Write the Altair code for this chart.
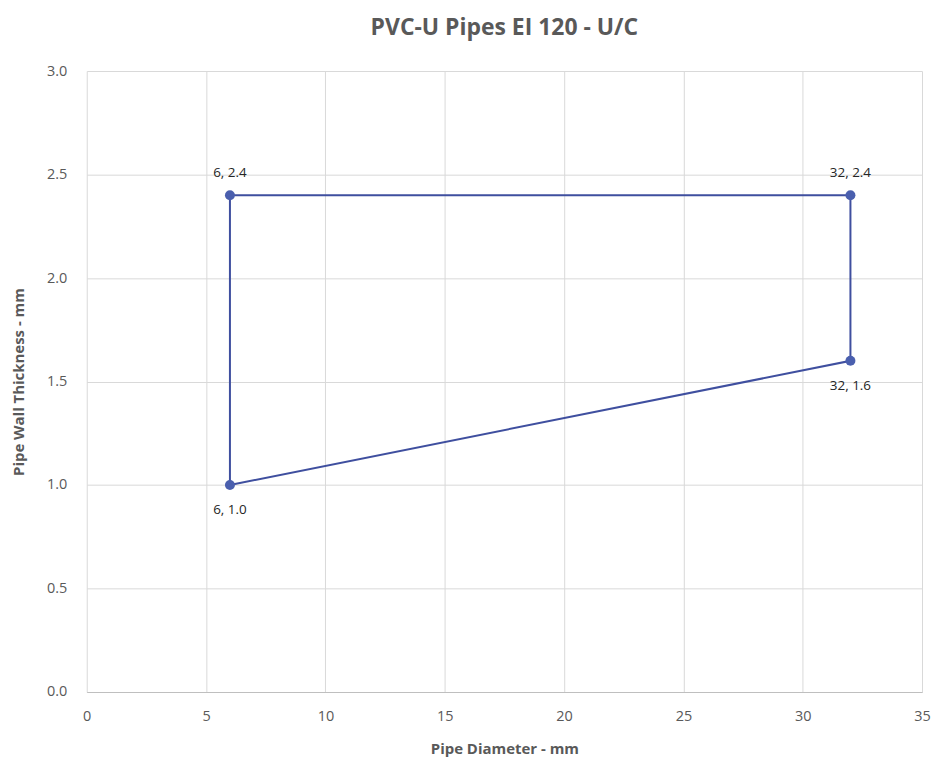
import altair as alt
import pandas as pd

xs = [6, 32, 32, 6, 6]
ys = [2.4, 2.4, 1.6, 1.0, 2.4]
order = [0, 1, 2, 3, 4]

pt_x = [6, 32, 32, 6]
pt_y = [2.4, 2.4, 1.6, 1.0]
pt_label = ["6, 2.4", "32, 2.4", "32, 1.6", "6, 1.0"]
pt_pos = ["above", "above", "below", "below"]

line_df = pd.DataFrame({"x": xs, "y": ys, "o": order})
pt_df = pd.DataFrame({"x": pt_x, "y": pt_y, "label": pt_label, "pos": pt_pos})

xscale = alt.Scale(domain=[0, 35], nice=False, zero=False)
yscale = alt.Scale(domain=[0, 3.0], nice=False, zero=False)

xaxis = alt.Axis(title="Pipe Diameter - mm", values=[0, 5, 10, 15, 20, 25, 30, 35],
                 format="d", ticks=False, domain=True, domainColor="#bfbfbf",
                 gridColor="#d9d9d9", labelPadding=18, titlePadding=18, labelFlush=False)
yaxis = alt.Axis(title="Pipe Wall Thickness - mm", values=[0, 0.5, 1.0, 1.5, 2.0, 2.5, 3.0],
                 format=".1f", ticks=False, domain=False,
                 gridColor="#d9d9d9", labelPadding=20, titlePadding=20, labelFlush=False)

line = alt.Chart(line_df).mark_line(color="#3f4f9f", strokeWidth=2).encode(
    x=alt.X("x:Q", scale=xscale, axis=xaxis),
    y=alt.Y("y:Q", scale=yscale, axis=yaxis),
    order="o:Q",
)

pts = alt.Chart(pt_df).mark_circle(size=100, color="#4a5fae", opacity=1).encode(
    x=alt.X("x:Q", scale=xscale),
    y=alt.Y("y:Q", scale=yscale),
)

lab_above = alt.Chart(pt_df).transform_filter("datum.pos == 'above'").mark_text(
    dy=-22, fontSize=13.5, color="#262626", font="Open Sans"
).encode(x=alt.X("x:Q", scale=xscale), y=alt.Y("y:Q", scale=yscale), text="label:N")

lab_below = alt.Chart(pt_df).transform_filter("datum.pos == 'below'").mark_text(
    dy=25, fontSize=13.5, color="#262626", font="Open Sans"
).encode(x=alt.X("x:Q", scale=xscale), y=alt.Y("y:Q", scale=yscale), text="label:N")

chart = alt.layer(line, pts, lab_above, lab_below).properties(
    width=838,
    height=623,
    title=alt.Title("PVC-U Pipes EI 120 - U/C", fontSize=23, font="Open Sans",
                    fontWeight="bold", color="#595959", offset=23, anchor="middle"),
    autosize=alt.AutoSizeParams(type="none"),
    padding={"left": 79, "top": 62, "right": 10, "bottom": 70},
).configure_axis(
    labelFont="Open Sans", labelFontSize=14.5, labelColor="#595959",
    titleFont="Open Sans", titleFontSize=15, titleColor="#595959", titleFontWeight="bold",
).configure_view(stroke=None)

chart.save("out.html", embed_options={"renderer": "svg", "actions": False})
